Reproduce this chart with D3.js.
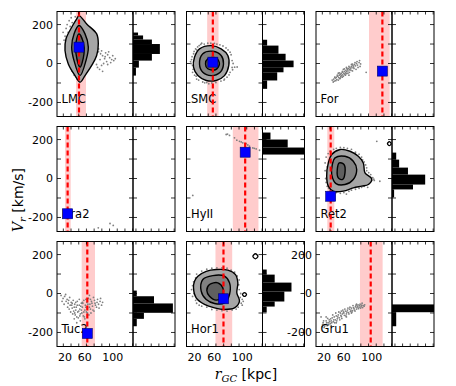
<!DOCTYPE html>
<html>
<head>
<meta charset="utf-8">
<script src="https://cdn.jsdelivr.net/npm/d3@7"></script>
<style>
body { margin: 0; background: #fff; }
text { font-family: "DejaVu Sans", sans-serif; }
</style>
</head>
<body>
<svg id="chart" width="456" height="386"></svg>
<script>
// one entry per panel, row by row
var names  = ["LMC", "SMC", "For", "Dra2", "HyII", "Ret2", "Tuc2", "Hor1", "Gru1"];
var rLine  = [43.4, 52, 131, 21, 115.8, 29, 59.8, 73, 108];
var bandLo = [37.5, 40.8, 104.6, 15.8, 91.4, 22.3, 48.7, 57.2, 86.8];
var bandHi = [57.2, 63.2, 145.4, 27, 142, 36.1, 75, 90.2, 131.5];
var blueV  = [84, 7, -39, -181, 135, -91, -205, -27, null];

// V_r histograms: bin edges (top to bottom) and counts
var histEdges = [
  [159, 144, 123, 100, 49, 15, -21, -62],
  [122, 92, 50, 15, -19, -45, -87, -130],
  null,
  null,
  [236, 200, 159, 123],
  [133, 97, 56, 20, -31, -56, -97],
  [15, -14, -51, -99, -130, -168],
  [123, 97, 56, 10, -41, -67, -97],
  [-56, -96, -168]
];
var histCounts = [
  [12, 24, 45, 64, 45, 14, 7],
  [11, 38, 55, 74, 50, 35, 11],
  null,
  null,
  [19, 60, 150],
  [10, 17, 38, 79, 50, 5],
  [9, 50, 95, 26, 9],
  [10, 29, 69, 52, 29, 10],
  [150, 10]
];

// simulated particles [r_GC, V_r]
var ptsLMC = [[20,200],[24,220],[18,180],[28,235],[22,160],[16,140],[30,210],[26,190],[14,120],[19,100],
  [82,60],[86,50],[90,40],[95,35],[100,45],[104,30],[108,20],[112,15],[98,10],[92,0],[88,-10],[85,20],
  [96,55],[102,60],[110,40],[115,25],[80,-20],[84,-30],[90,-40],[78,-5],[106,5],[94,25],[100,-5],[88,65],
  [82,75],[30,-40],[34,-60],[40,-80],[12,160],[36,240]];
var ptsSMC = [[10,20],[12,-10],[14,50],[18,75],[25,92],[35,100],[48,104],[60,100],[72,90],[82,70],[88,45],
  [90,15],[90,-20],[86,-45],[80,-70],[68,-90],[50,-100],[32,-95],[20,-80],[12,-45],[16,-60],[95,-19],
  [100,-18],[22,85],[40,-98],[75,-80],[9,0],[30,104],
  [8,10],[11,35],[13,-30],[15,62],[19,-65],[24,-85],[28,98],[42,104],[55,103],[66,96],[78,80],[86,58],
  [92,0],[91,-32],[84,-58],[74,-85],[58,-98],[44,-104],[36,-99],[20,70]];
var ptsFor = [[32,-85],[35,-80],[36,-90],[38,-75],[40,-70],[41,-82],[43,-65],[45,-72],[46,-60],[48,-55],
  [49,-68],[50,-50],[52,-58],[53,-45],[55,-52],[56,-40],[58,-48],[59,-35],[60,-42],[62,-30],[63,-38],
  [64,-25],[66,-32],[67,-20],[68,-28],[70,-15],[71,-22],[73,-10],[74,-18],[76,-5],[78,-12],[80,0],
  [82,-8],[85,5],[88,-2],[44,-50],[52,-70],[60,-20],[58,-60],[47,-78],[99,-45],
  [34,-95],[37,-70],[39,-88],[42,-60],[44,-85],[46,-48],[48,-75],[50,-62],[52,-40],[54,-65],[56,-28],
  [57,-55],[60,-52],[61,-25],[63,-50],[65,-15],[66,-45],[69,-35],[70,-5],[72,-38],[75,-25],[77,5],
  [79,-30],[81,10],[83,-20],[86,15],[87,-15],[72,-3],[65,-60],[54,-30]];
var ptsDra2 = [[81.5,-253],[104.6,-231],[111,-241]];
var ptsHyII = [[78.3,226],[84.9,221],[94.7,209],[99.3,197],[104.6,191],[111.1,183],[117.7,179],[124.3,166],
  [130.9,157],[137.6,152],[144.1,145],[81,228],[108,188],[121,172],[134,155],[12.4,-87]];
var ptsRet2 = [[20,110],[22,60],[19,0],[25,-50],[30,-75],[40,-72],[55,-72],[70,-60],[85,-50],[95,-40],
  [105,-25],[112,5],[108,20],[100,40],[98,70],[92,95],[85,125],[70,150],[55,158],[40,155],[28,140],
  [120,191],[126,-14],[60,-80],[115,-10],[102,-45],[33,-20],[26,30],
  [18,80],[18,40],[20,-20],[22,-40],[35,-72],[48,-76],[65,-66],[78,-55],[90,-45],[100,-30],[110,-10],
  [114,-3],[104,30],[100,55],[95,85],[90,110],[78,135],[62,155],[48,160],[35,150],[24,128],[28,-60]];
var ptsTuc2 = [[8,-10],[12,-25],[15,-15],[18,-40],[20,-30],[22,-50],[25,-20],[26,-60],[28,-45],[30,-75],
  [32,-35],[33,-90],[35,-55],[36,-110],[38,-70],[40,-40],[41,-95],[42,-125],[44,-60],[45,-80],[46,-140],
  [48,-50],[49,-100],[50,-70],[52,-115],[53,-35],[55,-85],[56,-60],[58,-95],[59,-45],[60,-75],[62,-25],
  [63,-110],[65,-55],[66,-80],[68,-40],[70,-65],[72,-20],[73,-90],[75,-50],[78,-70],[80,-30],[82,-55],
  [85,-40],[88,-60],[90,-45],[24,-80],[34,-130],[44,-30],[54,-120],[64,-10],[39,-150],[47,-65],[57,-70],[37,-85],
  [10,-40],[14,-55],[17,-5],[21,-70],[23,-35],[27,-95],[29,-60],[31,-105],[34,-70],[37,-45],[39,-120],
  [43,-90],[46,-105],[48,-85],[51,-50],[53,-95],[55,-130],[57,-30],[60,-100],[61,-55],[64,-70],[67,-100],
  [69,-50],[71,-85],[74,-35],[76,-60],[79,-45],[83,-75],[86,-25],[40,-60],[50,-45],[45,-115],[35,-100],
  [30,-50],[66,-30]];
var ptsHor1 = [[12,40],[15,0],[18,-35],[25,-60],[40,-70],[60,-85],[80,-90],[98,-80],[108,-50],[106,-20],
  [104,20],[104,70],[95,110],[80,130],[60,132],[40,125],[20,100],[110,-60],[112,-40],
  [10,20],[12,-15],[14,60],[20,-50],[30,-65],[50,-82],[70,-88],[90,-85],[102,-70],[110,-30],[107,0],
  [103,45],[100,90],[88,120],[70,132],[50,130],[30,115],[18,80]];
var ptsGru1 = [[12,-170],[14,-150],[16,-175],[18,-160],[20,-140],[22,-165],[24,-150],[26,-135],[28,-155],
  [30,-140],[32,-125],[34,-145],[36,-120],[38,-135],[40,-115],[42,-130],[44,-110],[46,-125],[48,-100],
  [50,-118],[52,-105],[54,-95],[56,-112],[58,-90],[60,-105],[62,-85],[64,-98],[66,-80],[68,-92],[70,-75],
  [72,-88],[74,-72],[76,-85],[78,-68],[80,-80],[82,-65],[84,-78],[86,-62],[88,-75],[90,-60],[92,-72],
  [95,-65],[30,-165],[40,-150],[50,-90],[60,-120],[70,-100],[80,-55],[10,-120],[20,-120],
  [13,-160],[15,-140],[17,-168],[21,-150],[23,-128],[25,-160],[27,-145],[29,-130],[31,-150],[33,-110],
  [35,-135],[37,-150],[39,-100],[41,-140],[43,-120],[45,-95],[47,-135],[49,-112],[51,-128],[53,-85],
  [55,-100],[57,-80],[59,-115],[61,-95],[63,-75],[65,-105],[67,-70],[69,-85],[71,-95],[73,-62],
  [75,-78],[77,-90],[79,-60],[81,-72],[83,-58],[85,-70],[87,-55],[89,-68],[91,-50],[93,-62],[96,-58]];
var points = [ptsLMC, ptsSMC, ptsFor, ptsDra2, ptsHyII, ptsRet2, ptsTuc2, ptsHor1, ptsGru1];

// density contours, outer to inner
var contLMC = [
  [[43.4,246],[58.6,203],[78.3,152],[81.5,101],[78.3,41],[68.5,-10],[55.3,-62],[45.4,-96],[35.5,-62],
   [22.3,-2],[15.8,67],[17.8,127],[29,186],[38.9,229]],
  [[43.4,195],[55.3,152],[61.8,84],[57.2,15],[45.4,-62],[33.6,15],[29,84],[33.6,152]],
  [[43.4,152],[51.9,109],[53.3,50],[45.4,-19],[37.5,50],[37.5,109]]
];
var contSMC = [
  [[25.7,75],[48.7,92],[68.4,75],[81.6,41],[83.5,-10],[75,-62],[58.6,-87],[38.9,-87],[22.4,-62],[13.8,-19],[15.8,32]],
  [[32.2,50],[52,63],[68.4,41],[73,-2],[66.5,-45],[48.7,-62],[32.2,-45],[25.7,-2]],
  [[42,24],[58.6,29],[65,-2],[57.2,-32],[42,-27],[37.5,-2]]
];
var contRet2 = [
  [[31,123],[47.4,149],[67.1,140],[83.5,114],[93.4,80],[96.7,29],[110,-2],[103.3,-31],[90.2,-39],
   [73.6,-48],[53.9,-65],[34.1,-65],[24.3,-39],[21.1,12],[24.3,80]],
  [[37.5,106],[57.2,114],[73.6,89],[80.3,46],[73.6,-5],[57.2,-31],[39.5,-26],[31,20],[32.2,72]],
  [[46,80],[55.3,72],[57.2,29],[52.6,-5],[44,3],[42,46]]
];
var contHor1 = [
  [[22.4,89],[38.9,114],[58.6,123],[81.6,120],[96.7,97],[101.3,55],[99.3,3],[104.6,-39],[94.7,-74],
   [75,-82],[55.3,-74],[35.5,-56],[19.1,-22],[13.8,29],[15.8,63]],
  [[32.2,72],[52,92],[75,89],[84.9,55],[84.9,-5],[75,-48],[55.3,-51],[38.9,-31],[29,12]],
  [[45.4,46],[61.8,55],[71.6,29],[70.5,-14],[58.6,-34],[45.4,-14],[40.1,15]]
];
var rings = {
  5: [[[141,179],[144.7,189],[148.5,179],[144.7,169]]],
  7: [[[131,191],[136,204],[141,191],[136,178]], [[110.5,-5],[114.5,5],[118.5,-5],[114.5,-15]]]
};
var contours = {0: contLMC, 1: contSMC, 5: contRet2, 7: contHor1};

var yTicks = [-200, -100, 0, 100, 200];
var yTickText = [200, 0, -200];
var xTickVals = [16, 55, 110], xTickText = ["20", "60", "100"];

var svg = d3.select("#chart");
svg.append("rect").attr("width", 456).attr("height", 386).attr("fill", "#fff");

var colX = [57, 186.5, 316], rowY = [11.5, 126.5, 241.5];
var sw = 76, hw = 42, ph = 105;

var x = d3.scaleLinear().domain([0, 150]).range([0, sw]);
var y = d3.scaleLinear().domain([-272, 267]).range([ph, 0]);
var hx = d3.scaleLinear().domain([0, 100]).range([0, hw]);
var path = d3.line().x(function (d) { return x(d[0]); }).y(function (d) { return y(d[1]); })
  .curve(d3.curveCatmullRomClosed);
var levelFill = ["#a6a6a6", "#818181", "#5f5f5f"];

names.forEach(function (name, i) {
  var row = Math.floor(i / 3), col = i % 3;
  var g = svg.append("g").attr("transform", "translate(" + colX[col] + "," + rowY[row] + ")");

  g.append("clipPath").attr("id", "clip" + i).append("rect").attr("width", sw).attr("height", ph);
  g.append("clipPath").attr("id", "hclip" + i).append("rect")
    .attr("x", sw).attr("width", hw).attr("height", ph);

  var s = g.append("g").attr("clip-path", "url(#clip" + i + ")");
  s.append("rect")
    .attr("x", x(bandLo[i])).attr("width", x(bandHi[i]) - x(bandLo[i]))
    .attr("height", ph).attr("fill", "#ffcccc");

  s.selectAll(".pt").data(points[i]).enter().append("circle")
    .attr("cx", function (d) { return x(d[0]); })
    .attr("cy", function (d) { return y(d[1]); })
    .attr("r", 0.9).attr("fill", "#808080");

  if (contours[i]) {
    contours[i].forEach(function (c, k) {
      s.append("path").attr("d", path(c))
        .attr("fill", levelFill[k]).attr("stroke", "#000").attr("stroke-width", 1.4);
    });
  }
  if (rings[i]) {
    rings[i].forEach(function (c) {
      s.append("path").attr("d", path(c))
        .attr("fill", "none").attr("stroke", "#000").attr("stroke-width", 1.3);
    });
  }

  s.append("text").attr("x", 4.5).attr("y", 91.5).attr("font-size", 11.5).text(name);

  s.append("line")
    .attr("x1", x(rLine[i])).attr("x2", x(rLine[i]))
    .attr("y1", 0).attr("y2", ph)
    .attr("stroke", "#ff0000").attr("stroke-width", 2.2).attr("stroke-dasharray", "5,3");

  if (blueV[i] !== null) {
    s.append("rect")
      .attr("x", x(rLine[i]) - 5).attr("y", y(blueV[i]) - 5)
      .attr("width", 10).attr("height", 10)
      .attr("fill", "#0000ff").attr("stroke", "#00006a").attr("stroke-width", 0.6);
  }

  // histogram
  if (histEdges[i]) {
    var e = histEdges[i];
    var h = g.append("g").attr("clip-path", "url(#hclip" + i + ")");
    h.selectAll("rect").data(histCounts[i]).enter().append("rect")
      .attr("x", sw)
      .attr("y", function (d, k) { return y(e[k]); })
      .attr("width", function (d) { return hx(d); })
      .attr("height", function (d, k) { return y(e[k + 1]) - y(e[k]); })
      .attr("fill", "#000");
  }

  // frames
  [[0, sw], [sw, hw]].forEach(function (f) {
    g.append("rect").attr("x", f[0]).attr("width", f[1]).attr("height", ph)
      .attr("fill", "none").attr("stroke", "#000").attr("stroke-width", 1);
  });

  // ticks
  var tk = g.append("g").attr("stroke", "#000").attr("stroke-width", 0.8);
  yTicks.forEach(function (v) {
    var yy = y(v);
    tk.append("line").attr("x1", 0).attr("x2", 4).attr("y1", yy).attr("y2", yy);
    tk.append("line").attr("x1", sw - 4).attr("x2", sw + 4).attr("y1", yy).attr("y2", yy);
    tk.append("line").attr("x1", sw + hw - 4).attr("x2", sw + hw).attr("y1", yy).attr("y2", yy);
  });
  d3.range(12.5, 150, 15.2).forEach(function (v) {
    tk.append("line").attr("x1", x(v)).attr("x2", x(v)).attr("y1", 0).attr("y2", 3);
    tk.append("line").attr("x1", x(v)).attr("x2", x(v)).attr("y1", ph).attr("y2", ph - 3);
  });
  d3.range(7, 100, 18.2).forEach(function (v) {
    tk.append("line").attr("x1", sw + hx(v)).attr("x2", sw + hx(v)).attr("y1", 0).attr("y2", 3);
    tk.append("line").attr("x1", sw + hx(v)).attr("x2", sw + hx(v)).attr("y1", ph).attr("y2", ph - 3);
  });

  // tick labels
  if (col === 0 || i === 8) {
    yTickText.forEach(function (v) {
      g.append("text").attr("x", -4).attr("y", y(v)).attr("dy", "0.36em")
        .attr("text-anchor", "end").attr("font-size", 11).text(v);
    });
  }
  if (row === 2) {
    xTickVals.forEach(function (v, k) {
      g.append("text").attr("x", x(v)).attr("y", ph + 14.5)
        .attr("text-anchor", "middle").attr("font-size", 11).text(xTickText[k]);
    });
  }
});

// axis labels
var xl = svg.append("text").attr("x", 246).attr("y", 379).attr("text-anchor", "middle").attr("font-size", 14);
xl.append("tspan").attr("font-family", "DejaVu Serif").attr("font-style", "italic").text("r");
xl.append("tspan").attr("font-family", "DejaVu Serif").attr("font-style", "italic")
  .attr("font-size", 10).attr("dy", 3).text("GC");
xl.append("tspan").attr("dy", -3).text(" [kpc]");

var yl = svg.append("text").attr("transform", "translate(23,200) rotate(-90)")
  .attr("text-anchor", "middle").attr("font-size", 14);
yl.append("tspan").attr("font-family", "DejaVu Serif").attr("font-style", "italic").text("V");
yl.append("tspan").attr("font-family", "DejaVu Serif").attr("font-style", "italic")
  .attr("font-size", 10).attr("dy", 3).text("r");
yl.append("tspan").attr("dy", -3).text(" [km/s]");
</script>
</body>
</html>
